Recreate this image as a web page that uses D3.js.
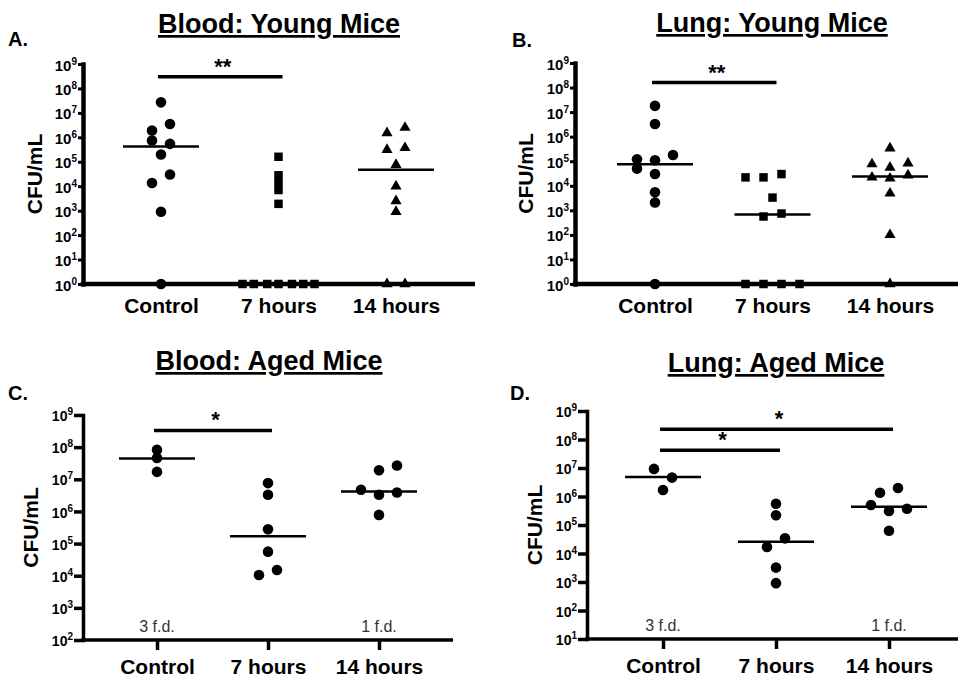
<!DOCTYPE html>
<html>
<head>
<meta charset="utf-8">
<script src="https://cdn.jsdelivr.net/npm/d3@7"></script>
<style>
body { margin: 0; background: #ffffff; }
svg text { font-family: "Liberation Sans", Arial, sans-serif; }
</style>
</head>
<body>
<div class="canvas"></div>
<script>
// ---- data ----
var categories = ["Control", "7 hours", "14 hours"];

var youngTicks = [0, 1, 2, 3, 4, 5, 6, 7, 8, 9];
var bloodAgedTicks = [2, 3, 4, 5, 6, 7, 8, 9];
var lungAgedTicks = [1, 2, 3, 4, 5, 6, 7, 8, 9];

// A. Blood: Young Mice
var bloodYoungControl = [2.7e7, 3.5e6, 1.9e6, 7.4e5, 5.4e5, 2e5, 3e4, 1.35e4, 900, 1];
var bloodYoungControlJit = [0, 1, -1, -1, 1, 0, 1, -1, 0, 0];
var bloodYoung7h = [1.6e5, 2.8e4, 1.4e4, 7e3, 1.9e3, 1, 1, 1, 1, 1, 1, 1];
var bloodYoung7hJit = [0, 0, 0, 0, 0, -4, -2.75, -1.25, 0, 1.5, 2.75, 4];
var bloodYoung14h = [2.5e6, 1.5e6, 3.7e5, 3.1e5, 7.6e4, 1e4, 2.5e3, 900, 1, 1];
var bloodYoung14hJit = [1, -1, 1, -1, 0, 0, 0, 0, -1, 1];
var bloodYoungMedians = [4.2e5, 1, 4.7e4];

// B. Lung: Young Mice
var lungYoungControl = [1.8e7, 3.3e6, 1.8e5, 1.2e5, 1.1e5, 5e4, 3e4, 5.4e3, 2.1e3, 1];
var lungYoungControlJit = [0, 0, 2, -2, 0, -2, 0, 0, 0, 0];
var lungYoung7h = [3e4, 2.2e4, 2.2e4, 3.3e3, 740, 560, 1, 1, 1, 1];
var lungYoung7hJit = [1, -3, -1, 0, 1, -1, -3, -1, 1, 3];
var lungYoung14h = [3.4e5, 8.3e4, 7.6e4, 5.6e4, 2.7e4, 2.2e4, 2e4, 4.9e3, 100, 1];
var lungYoung14hJit = [0, 2, -2, 0, 2, -2, 0, 0, 0, 0];
var lungYoungMedians = [7.6e4, 680, 2.4e4];

// C. Blood: Aged Mice
var bloodAgedControl = [8.3e7, 4.6e7, 1.7e7];
var bloodAgedControlJit = [0, 0, 0];
var bloodAged7h = [7.6e6, 3.3e6, 2.8e5, 5.6e4, 1.5e4, 1.05e4];
var bloodAged7hJit = [0, 0, 0, 0, 1, -1];
var bloodAged14h = [2.7e7, 1.9e7, 4.7e6, 3.9e6, 3.3e6, 7.8e5];
var bloodAged14hJit = [2, 0, -2, 2, 0, 0];
var bloodAgedMedians = [4.4e7, 1.7e5, 4.2e6];

// D. Lung: Aged Mice
var lungAgedControl = [9.3e6, 4.6e6, 1.7e6];
var lungAgedControlJit = [-1, 1, 0];
var lungAged7h = [5.6e5, 2.2e5, 3.4e4, 1.7e4, 3.2e3, 910];
var lungAged7hJit = [0, 0, 1, -1, 0, 0];
var lungAged14h = [2e6, 1.36e6, 5e5, 3.7e5, 3.1e5, 6.3e4];
var lungAged14hJit = [1, -1, -2, 2, 0, 0];
var lungAgedMedians = [4.8e6, 2.6e4, 4.4e5];

// significance bars: from, to, level (CFU/mL), label
var bloodYoungSig = [["Control", "7 hours", 3e8, "**"]];
var lungYoungSig = [["Control", "7 hours", 1.6e8, "**"]];
var bloodAgedSig = [["Control", "7 hours", 3.3e8, "*"]];
var lungAgedSig = [["Control", "7 hours", 4.2e7, "*"], ["Control", "14 hours", 2.3e8, "*"]];

// fatal dose notes
var agedNotes = ["3 f.d.", "", "1 f.d."];

var svg = d3.select(".canvas")
	.append("svg")
	.attr("width", 958)
	.attr("height", 677);

var shapes = {
	circle: d3.symbol().type(d3.symbolCircle).size(88),
	square: d3.symbol().type(d3.symbolSquare).size(72),
	triangle: d3.symbol().type(d3.symbolTriangle).size(54)
};

function drawPanel(p) {
	var ticks = p.ticks.map(function(e){ return Math.pow(10, e); });
	var y = d3.scaleLog()
		.domain([ticks[0], ticks[ticks.length - 1]])
		.range([p.bottom, p.top]);
	var x = d3.scalePoint()
		.domain(categories)
		.range([p.xFirst, p.xLast]);

	var g = svg.append("g");

	// title + letter
	g.append("text")
		.attr("x", p.titleX)
		.attr("y", p.titleY)
		.attr("text-anchor", "middle")
		.attr("font-size", "27px")
		.attr("font-weight", "bold")
		.attr("text-decoration", "underline")
		.text(p.title);

	g.append("text")
		.attr("x", p.letterX)
		.attr("y", p.letterY)
		.attr("font-size", "20px")
		.attr("font-weight", "bold")
		.text(p.letter);

	// y axis label
	g.append("text")
		.attr("transform", "translate(" + p.ylabX + "," + ((p.top + p.bottom) / 2) + ") rotate(-90)")
		.attr("text-anchor", "middle")
		.attr("font-size", "21px")
		.attr("font-weight", "bold")
		.text("CFU/mL");

	// y axis
	var yAxis = g.append("g")
		.attr("transform", "translate(" + p.left + ",0)")
		.call(d3.axisLeft(y)
			.tickValues(ticks)
			.tickSize(p.yTick)
			.tickSizeOuter(0)
			.tickPadding(1)
			.tickFormat(function(){ return "10"; }));
	yAxis.select(".domain")
		.attr("stroke-width", p.axisW)
		.attr("stroke-linecap", "square");
	yAxis.selectAll(".tick line")
		.attr("stroke-width", p.tickW);
	yAxis.selectAll(".tick text")
		.attr("font-size", p.tickFont)
		.attr("font-weight", "bold")
		.attr("fill", "#000")
		.attr("dy", "0.4em")
		.append("tspan")
		.attr("dy", "-0.6em")
		.attr("font-size", "10px")
		.text(function(d){ return Math.round(Math.log10(d)); });

	// x axis
	var xAxis = g.append("g")
		.attr("transform", "translate(0," + p.bottom + ")")
		.call(d3.axisBottom(x)
			.tickSize(p.xTick)
			.tickSizeOuter(0)
			.tickPadding(p.xPad));
	xAxis.select(".domain").remove();
	xAxis.append("line")
		.attr("x1", p.left - p.axisW / 2)
		.attr("x2", p.right)
		.attr("y1", 0)
		.attr("y2", 0)
		.attr("stroke", "#000")
		.attr("stroke-width", p.axisW);
	xAxis.selectAll(".tick line")
		.attr("stroke-width", p.tickW);
	xAxis.selectAll(".tick text")
		.attr("font-size", "21px")
		.attr("font-weight", "bold")
		.attr("fill", "#000");

	// f.d. notes
	if (p.notes) {
		g.selectAll(".note")
			.data(p.notes)
			.enter()
			.append("text")
			.attr("x", function(d, i){ return x(categories[i]); })
			.attr("y", p.bottom - 8)
			.attr("text-anchor", "middle")
			.attr("font-size", "16px")
			.attr("fill", "#333")
			.text(function(d){ return d; });
	}

	// significance bars
	p.sig.forEach(function(s){
		var yy = y(s[2]);
		g.append("line")
			.attr("x1", x(s[0]) - 3)
			.attr("x2", x(s[1]) + 4)
			.attr("y1", yy)
			.attr("y2", yy)
			.attr("stroke", "#000")
			.attr("stroke-width", 3.5);
		g.append("text")
			.attr("x", (x(s[0]) + x(s[1])) / 2 + 3)
			.attr("y", yy - 3)
			.attr("text-anchor", "middle")
			.attr("font-size", "22px")
			.attr("font-weight", "bold")
			.text(s[3]);
	});

	// medians
	g.selectAll(".median")
		.data(p.medians)
		.enter()
		.append("line")
		.attr("x1", function(d, i){ return x(categories[i]) - 38; })
		.attr("x2", function(d, i){ return x(categories[i]) + 38; })
		.attr("y1", function(d){ return y(d); })
		.attr("y2", function(d){ return y(d); })
		.attr("stroke", "#000")
		.attr("stroke-width", 2.5);

	// points
	p.series.forEach(function(vals, i){
		var jit = p.jitter[i];
		g.selectAll(".pt" + i)
			.data(vals)
			.enter()
			.append("path")
			.attr("d", shapes[p.shapes[i]])
			.attr("transform", function(d, j){
				return "translate(" + (x(categories[i]) + jit[j] * 9) + "," + y(d) + ")";
			})
			.attr("fill", "#000");
	});
}

drawPanel({
	title: "Blood: Young Mice", titleX: 279, titleY: 33, letter: "A.", letterX: 8, letterY: 46,
	ylabX: 42, left: 83, right: 475, top: 64, bottom: 284, xFirst: 161, xLast: 396,
	ticks: youngTicks, yTick: 5, xTick: 0, xPad: 14, axisW: 4.5, tickW: 3, tickFont: "15px",
	series: [bloodYoungControl, bloodYoung7h, bloodYoung14h],
	jitter: [bloodYoungControlJit, bloodYoung7hJit, bloodYoung14hJit],
	shapes: ["circle", "square", "triangle"],
	medians: bloodYoungMedians, sig: bloodYoungSig
});

drawPanel({
	title: "Lung: Young Mice", titleX: 772, titleY: 32, letter: "B.", letterX: 512, letterY: 47,
	ylabX: 533, left: 575, right: 958, top: 63, bottom: 284, xFirst: 655, xLast: 890,
	ticks: youngTicks, yTick: 5, xTick: 0, xPad: 14, axisW: 4.5, tickW: 3, tickFont: "15px",
	series: [lungYoungControl, lungYoung7h, lungYoung14h],
	jitter: [lungYoungControlJit, lungYoung7hJit, lungYoung14hJit],
	shapes: ["circle", "square", "triangle"],
	medians: lungYoungMedians, sig: lungYoungSig
});

drawPanel({
	title: "Blood: Aged Mice", titleX: 269, titleY: 370, letter: "C.", letterX: 8, letterY: 400,
	ylabX: 38, left: 83, right: 453, top: 415, bottom: 640, xFirst: 157, xLast: 379,
	ticks: bloodAgedTicks, yTick: 9, xTick: 10, xPad: 9, axisW: 3.5, tickW: 3.5, tickFont: "14px",
	series: [bloodAgedControl, bloodAged7h, bloodAged14h],
	jitter: [bloodAgedControlJit, bloodAged7hJit, bloodAged14hJit],
	shapes: ["circle", "circle", "circle"],
	medians: bloodAgedMedians, sig: bloodAgedSig, notes: agedNotes
});

drawPanel({
	title: "Lung: Aged Mice", titleX: 776, titleY: 372, letter: "D.", letterX: 510, letterY: 400,
	ylabX: 542, left: 587, right: 958, top: 411, bottom: 639, xFirst: 663, xLast: 889,
	ticks: lungAgedTicks, yTick: 9, xTick: 10, xPad: 9, axisW: 3.5, tickW: 3.5, tickFont: "14px",
	series: [lungAgedControl, lungAged7h, lungAged14h],
	jitter: [lungAgedControlJit, lungAged7hJit, lungAged14hJit],
	shapes: ["circle", "circle", "circle"],
	medians: lungAgedMedians, sig: lungAgedSig, notes: agedNotes
});
</script>
</body>
</html>
